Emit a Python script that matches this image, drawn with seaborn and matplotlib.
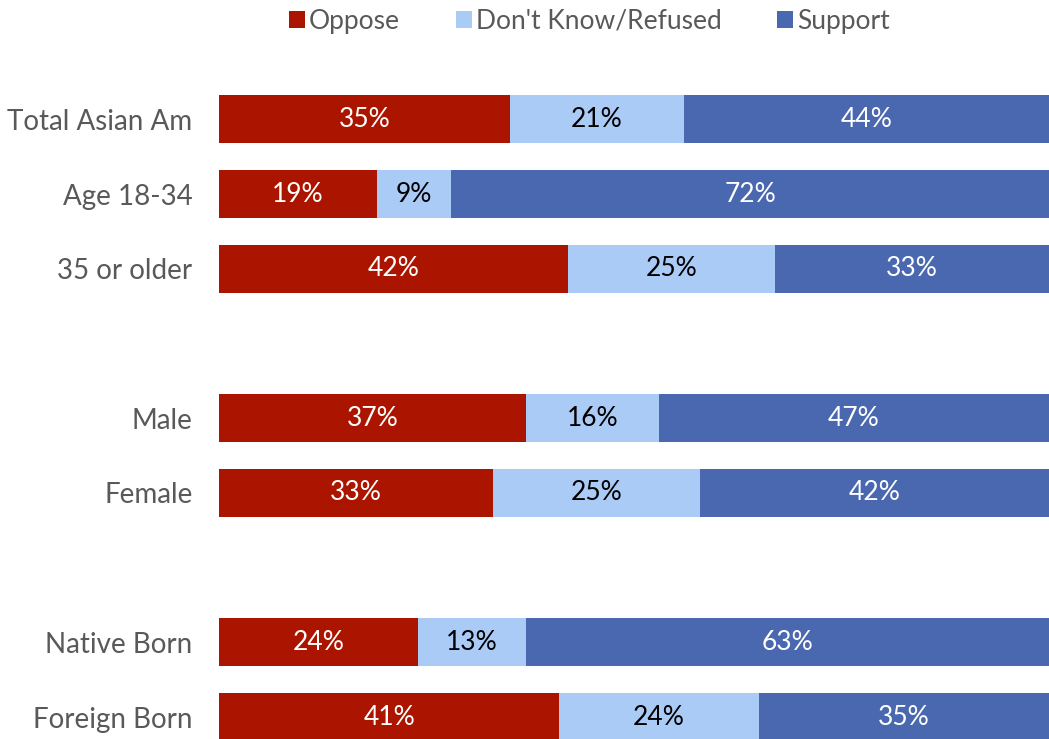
import matplotlib
matplotlib.use("Agg")
import matplotlib.pyplot as plt
import seaborn as sns
import pandas as pd
from matplotlib.patches import Patch

# Survey rows (blank entries are spacer rows between groups)
groups = ["Total Asian Am", "Age 18-34", "35 or older", "",
          "Male", "Female", " ",
          "Native Born", "Foreign Born"]
oppose = [35, 19, 42, None, 37, 33, None, 24, 41]
dont_know = [21, 9, 25, None, 16, 25, None, 13, 24]
support = [44, 72, 33, None, 47, 42, None, 63, 35]

series_names = ["Oppose", "Don't Know/Refused", "Support"]
colors = ["#AB1500", "#ABCBF7", "#4A68AF"]
label_colors = ["white", "black", "white"]

sns.set_theme(style="white")
plt.rcParams["font.family"] = ["Lato", "DejaVu Sans"]

df = pd.DataFrame({"group": groups, "Oppose": oppose,
                   "Don't Know/Refused": dont_know, "Support": support})
df = df.fillna(0)
df["cum_oppose"] = df["Oppose"]
df["cum_dk"] = df["Oppose"] + df["Don't Know/Refused"]
df["cum_support"] = df["cum_dk"] + df["Support"]

fig = plt.figure(figsize=(10.49, 7.39), dpi=100)
ax = fig.add_axes([219 / 1049, 0, 830 / 1049, 657 / 739])

# stacked layers: draw the longest cumulative first
for col, color in zip(["cum_support", "cum_dk", "cum_oppose"],
                      [colors[2], colors[1], colors[0]]):
    sns.barplot(data=df, x=col, y="group", order=groups, color=color,
                orient="h", width=0.64, saturation=1, ax=ax, linewidth=0)

# percentage labels centred in each segment
for i, row in df.iterrows():
    left = 0
    for name, tc in zip(series_names, label_colors):
        v = row[name]
        if v > 0:
            ax.text(left + v / 2, i, f"{int(v)}%", ha="center", va="center",
                    color=tc, fontsize=19)
        left += v

ax.set_xlim(0, 100)
ax.set_ylim(8.294, -0.5)
ax.set_xlabel("")
ax.set_ylabel("")
ax.set_xticks([])
ax.tick_params(axis="y", length=0, pad=19, labelsize=20, labelcolor="#595959")
for s in ax.spines.values():
    s.set_visible(False)

handles = [Patch(facecolor=c, edgecolor="none") for c in colors]
fig.legend(handles, series_names, loc="upper center", bbox_to_anchor=(0.562, 1.02),
           ncol=3, frameon=False, fontsize=19, labelcolor="#595959",
           handlelength=0.62, handleheight=0.62, handletextpad=0.15, columnspacing=2.1)

fig.savefig("out.png", dpi=100)
